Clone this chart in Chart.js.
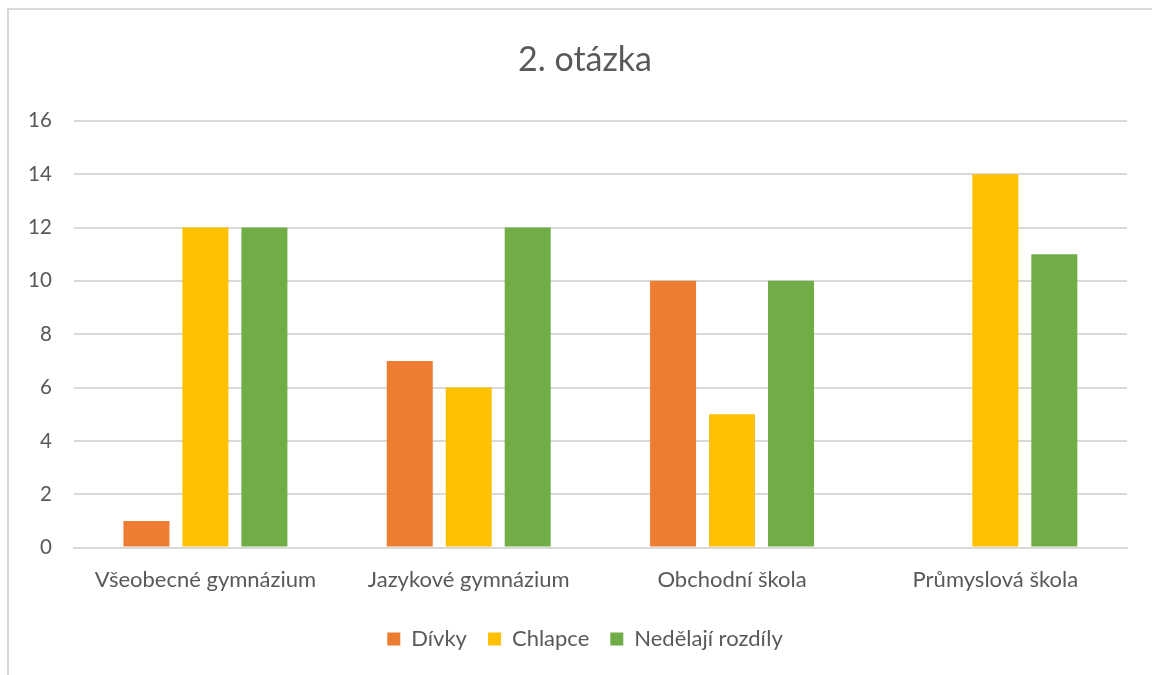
<!DOCTYPE html>
<html>
<head>
<meta charset="utf-8">
<script src="https://cdn.jsdelivr.net/npm/chart.js@4/dist/chart.umd.min.js"></script>
<style>
  html, body { margin: 0; padding: 0; background: #fff; }
  #wrap { position: relative; width: 1152px; height: 675px; }
  #frame { position: absolute; left: 7px; top: 8px; width: 1150px; height: 670px;
           border-top: 2px solid #d9d9d9; border-left: 2px solid #d9d9d9; box-sizing: border-box; }
  canvas { position: absolute; left: 0; top: 0; }
</style>
</head>
<body>
<div id="wrap">
  <div id="frame"></div>
  <canvas id="c" width="1152" height="675"></canvas>
</div>
<script>
const categories = ["Všeobecné gymnázium", "Jazykové gymnázium", "Obchodní škola", "Průmyslová škola"];
const divky = [1, 7, 10, 0];
const chlapce = [12, 6, 5, 14];
const nedelaji = [12, 12, 10, 11];
const seriesNames = ["Dívky", "Chlapce", "Nedělají rozdíly"];
const yTicks = [0, 2, 4, 6, 8, 10, 12, 14, 16];

const FONT = "Lato, 'Open Sans', sans-serif";
const TEXT = "#595959";

new Chart(document.getElementById("c"), {
  type: "bar",
  data: {
    labels: categories,
    datasets: [
      { label: seriesNames[0], data: divky, backgroundColor: "#ed7d31" },
      { label: seriesNames[1], data: chlapce, backgroundColor: "#ffc000" },
      { label: seriesNames[2], data: nedelaji, backgroundColor: "#70ad47" }
    ]
  },
  options: {
    responsive: false,
    animation: false,
    devicePixelRatio: 1,
    categoryPercentage: 0.672,
    barPercentage: 0.78,
    layout: { padding: { left: 18, right: 0, top: 30, bottom: 15 } },
    plugins: {
      title: {
        display: true,
        text: "2. otázka",
        color: TEXT,
        font: { family: FONT, size: 34, weight: "normal" },
        padding: { top: 10, bottom: 40 }
      },
      legend: {
        position: "bottom",
        labels: {
          color: TEXT,
          font: { family: FONT, size: 22 },
          boxWidth: 13,
          boxHeight: 13,
          padding: 21
        }
      },
      tooltip: { enabled: false }
    },
    scales: {
      x: {
        grid: { display: false },
        border: { display: true, color: "#d9d9d9", width: 2 },
        ticks: { color: TEXT, font: { family: FONT, size: 22 }, padding: 11 },
        afterFit: (axis) => { axis.height += 3; }
      },
      y: {
        min: 0,
        max: 16,
        afterBuildTicks: (axis) => { axis.ticks = yTicks.map(v => ({ value: v })); },
        grid: { color: "#d9d9d9", lineWidth: 2, drawTicks: false },
        border: { display: false },
        ticks: { color: TEXT, font: { family: FONT, size: 20.5 }, padding: 22 },
        afterFit: (axis) => { axis.width -= 12; }
      },
      ySpacer: {
        position: "right",
        min: 0,
        max: 16,
        grid: { display: false, drawTicks: false },
        border: { display: false },
        ticks: { display: false },
        afterFit: (axis) => { axis.width = 25; }
      }
    }
  }
});
</script>
</body>
</html>
